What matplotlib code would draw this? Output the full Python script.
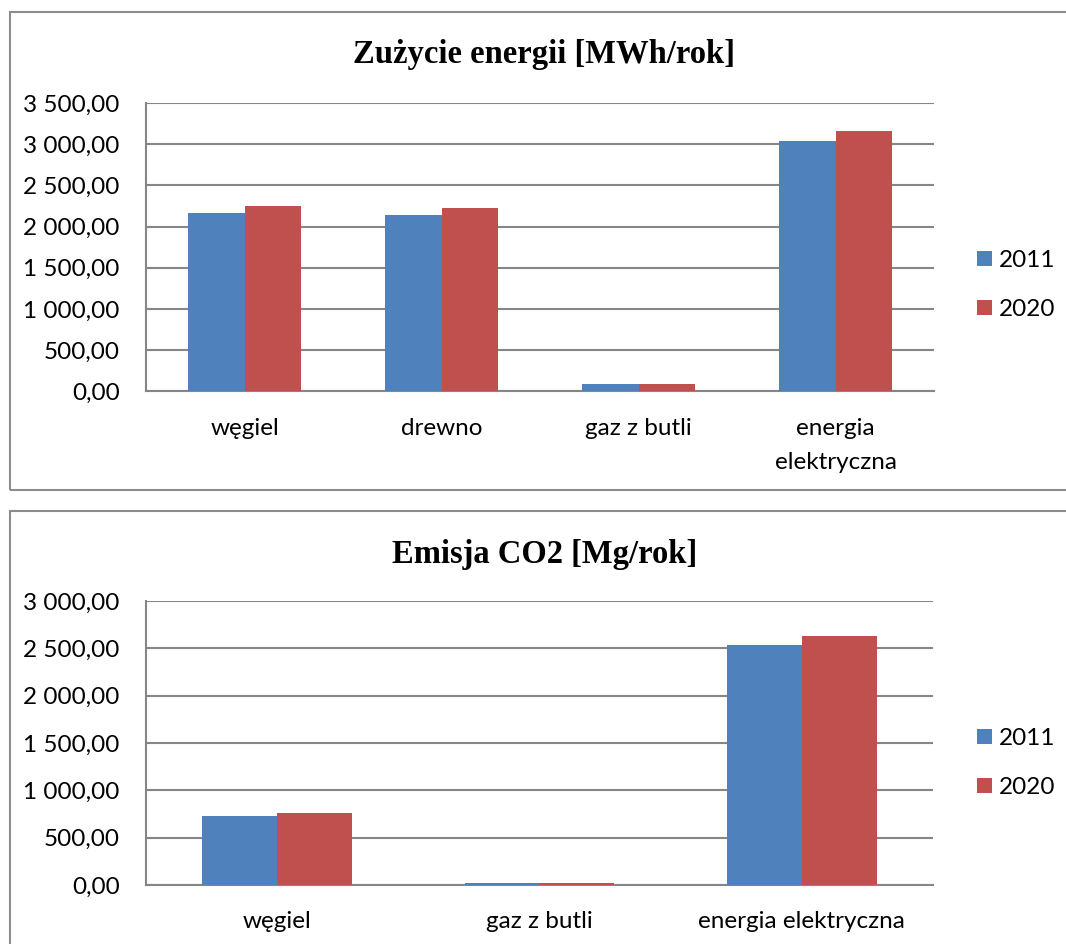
import numpy as np
import matplotlib
matplotlib.use("Agg")
import matplotlib.pyplot as plt
import matplotlib.ticker as mticker
from matplotlib.patches import Rectangle

W, H = 1066, 944

# ── Data ──────────────────────────────────────────────────────────────────────
years = ["2011", "2020"]

energy_cats = ["węgiel", "drewno", "gaz z butli", "energia\nelektryczna"]
energy_2011 = [2160, 2145, 90, 3040]
energy_2020 = [2250, 2230, 93, 3165]

co2_cats = ["węgiel", "gaz z butli", "energia elektryczna"]
co2_2011 = [732, 18, 2530]
co2_2020 = [760, 20, 2632]

COLORS = ["#4F81BD", "#C0504D"]
GRID = "#868686"
BORDER = "#8c8c8c"

plt.rcParams["font.family"] = ["Lato", "DejaVu Sans"]
TICK_FS = 17.5
TITLE_FS = 23.5


def pl_fmt(v, _pos):
    s = f"{v:,.2f}"
    return s.replace(",", " ").replace(".", ",")


def px_axes(fig, left, top, right, bottom):
    return fig.add_axes([left / W, 1 - bottom / H, (right - left) / W, (bottom - top) / H])


def draw_chart(fig, box, cats, s2011, s2020, ymax, title, title_xy, legend_y, border):
    ax = px_axes(fig, *box)
    x = np.arange(len(cats))
    bw = 1 / 1.75 / 2
    ax.bar(x - bw / 2, s2011, bw, color=COLORS[0], label=years[0], zorder=3)
    ax.bar(x + bw / 2, s2020, bw, color=COLORS[1], label=years[1], zorder=3)

    ax.set_xlim(-0.5, len(cats) - 0.5)
    ax.set_ylim(0, ymax)
    ax.yaxis.set_major_locator(mticker.MultipleLocator(500))
    ax.yaxis.set_major_formatter(mticker.FuncFormatter(pl_fmt))
    ax.set_xticks(x)
    ax.set_xticklabels(cats, fontsize=TICK_FS, linespacing=1.75)
    ax.tick_params(axis="y", length=0, pad=19, labelsize=TICK_FS)
    ax.tick_params(axis="x", length=0, pad=19)
    ax.grid(axis="y", color=GRID, lw=1.5, zorder=0)
    for side in ("top", "right"):
        ax.spines[side].set_visible(False)
    for side in ("left", "bottom"):
        ax.spines[side].set_color(GRID)
        ax.spines[side].set_linewidth(1.5)

    fig.text(title_xy[0] / W, 1 - title_xy[1] / H, title, ha="center", va="center",
             fontsize=TITLE_FS, fontweight="bold", family="Liberation Serif")

    ax.legend(loc="center left", bbox_to_anchor=(977 / W, 1 - legend_y / H),
              bbox_transform=fig.transFigure, frameon=False, fontsize=TICK_FS,
              handlelength=0.62, handleheight=0.62, handletextpad=0.3,
              labelspacing=1.15, borderpad=0, borderaxespad=0)

    bx0, by0, bx1, by1 = border
    fig.add_artist(Rectangle((bx0 / W, 1 - by1 / H), (bx1 - bx0) / W, (by1 - by0) / H,
                             transform=fig.transFigure, fill=False, ec=BORDER, lw=1.5))
    return ax


fig = plt.figure(figsize=(W / 100, H / 100), dpi=100)

draw_chart(fig, (146, 103, 934, 391.4), energy_cats, energy_2011, energy_2020, 3500,
           "Zużycie energii [MWh/rok]", (544, 55), 285, (10, 12, 1080, 490))
draw_chart(fig, (146, 601, 933, 885), co2_cats, co2_2011, co2_2020, 3000,
           "Emisja CO2 [Mg/rok]", (545, 554), 763, (10, 511, 1080, 960))

fig.savefig("out.png", dpi=100)
